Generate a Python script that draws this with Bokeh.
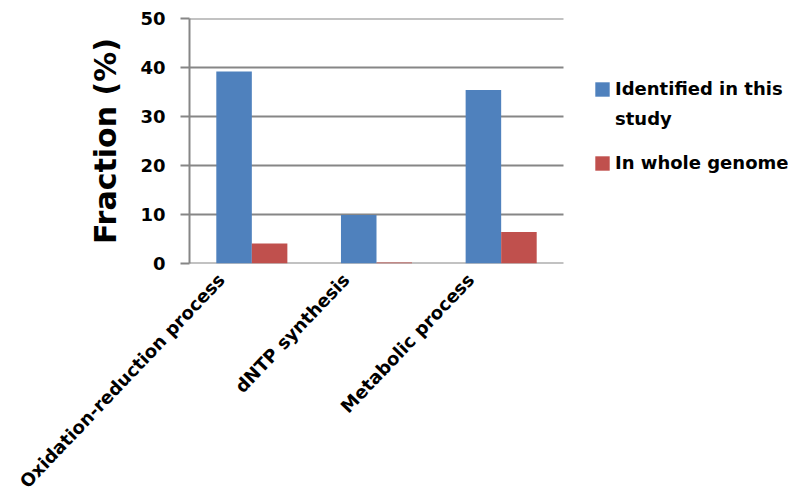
from bokeh.plotting import figure
from bokeh.models import (Range1d, Legend, LegendItem, ColumnDataSource, FixedTicker,
                          CustomJSTickFormatter)
from bokeh.embed import file_html
from bokeh.resources import INLINE
import numpy as np
import math

categories = ["Oxidation-reduction process", "dNTP synthesis", "Metabolic process"]
identified = [39.2, 9.9, 35.4]
whole_genome = [4.1, 0.2, 6.45]
series_names = ["Identified in this", "study", "In whole genome"]
y_ticks = [0, 10, 20, 30, 40, 50]

FONT = "DejaVu Sans"
GRAY = "#868686"
BLUE = "#4F81BD"
RED = "#C0504D"

BAR_W = 0.285          # width of one bar, in category units
LABEL_SHIFT = 0.245    # rotated category labels sit a little left of the group centre

# the frame runs on to the right edge so the legend can sit inside it;
# the bar area itself is 374 px wide, the rest of the frame holds the legend
BAR_AREA_PX = 374
FRAME_PX = 599
n = len(categories)
centers = np.arange(n) + 0.5

src = ColumnDataSource(dict(xb=centers - BAR_W / 2, xr=centers + BAR_W / 2,
                            ident=identified, whole=whole_genome))

p = figure(x_range=Range1d(0, n * FRAME_PX / BAR_AREA_PX), y_range=Range1d(0, 50),
           frame_width=FRAME_PX, frame_height=245, output_backend="svg",
           toolbar_location=None, min_border_left=189, min_border_right=0,
           min_border_top=18, min_border_bottom=235, outline_line_color=None)

# horizontal gridlines across the bar area only
p.segment(x0=[0] * len(y_ticks), x1=[n] * len(y_ticks), y0=y_ticks, y1=y_ticks,
          line_color=GRAY, line_width=2)

b1 = p.vbar(x="xb", top="ident", width=BAR_W, source=src, fill_color=BLUE, line_color=None)
b2 = p.vbar(x="xr", top="whole", width=BAR_W, source=src, fill_color=RED, line_color=None)
# empty renderer used for the second (glyph-less) line of the first legend entry
blank = p.vbar(x=[], top=[], width=BAR_W, fill_alpha=0, line_alpha=0)

# y axis
p.yaxis.ticker = FixedTicker(ticks=y_ticks)
p.yaxis.axis_line_color = GRAY
p.yaxis.axis_line_width = 2
p.yaxis.major_tick_line_color = GRAY
p.yaxis.major_tick_line_width = 2
p.yaxis.major_tick_out = 9
p.yaxis.major_tick_in = 0
p.yaxis.minor_tick_line_color = None
p.yaxis.major_label_text_font = FONT
p.yaxis.major_label_text_font_style = "bold"
p.yaxis.major_label_text_font_size = "18px"
p.yaxis.major_label_text_color = "black"
p.yaxis.major_label_standoff = 15
p.yaxis.axis_label = "Fraction (%)"
p.yaxis.axis_label_text_font = FONT
p.yaxis.axis_label_text_font_style = "bold"
p.yaxis.axis_label_text_font_size = "30px"
p.yaxis.axis_label_text_color = "black"
p.yaxis.axis_label_standoff = 14

# x axis: rotated category names only (baseline is the gridline at 0)
p.xaxis.ticker = FixedTicker(ticks=list(centers - LABEL_SHIFT))
p.xaxis.formatter = CustomJSTickFormatter(args=dict(cats=categories),
                                          code="return cats[Math.floor(tick)];")
p.xaxis.axis_line_color = None
p.xaxis.major_tick_line_color = None
p.xaxis.major_tick_out = 0
p.xaxis.major_tick_in = 0
p.xaxis.minor_tick_line_color = None
p.xaxis.major_label_orientation = 0.81
p.xaxis.major_label_standoff = 13
p.xaxis.major_label_text_font = FONT
p.xaxis.major_label_text_font_style = "bold"
p.xaxis.major_label_text_font_size = "18px"
p.xaxis.major_label_text_color = "black"

p.xgrid.grid_line_color = None
p.ygrid.grid_line_color = None

legend_style = dict(border_line_color=None, background_fill_alpha=0,
                    label_text_font=FONT, label_text_font_style="bold",
                    label_text_font_size="18px", label_text_color="black",
                    glyph_width=18, glyph_height=18, label_height=21, spacing=9,
                    padding=0, margin=0, label_standoff=4)

legend_a = Legend(items=[LegendItem(label=series_names[0], renderers=[b1]),
                         LegendItem(label=series_names[1], renderers=[blank])],
                  location=(404, 134), **legend_style)
legend_b = Legend(items=[LegendItem(label=series_names[2], renderers=[b2])],
                  location=(404, 90), **legend_style)
p.add_layout(legend_a)
p.add_layout(legend_b)

open("out.html", "w").write(file_html(p, INLINE))
